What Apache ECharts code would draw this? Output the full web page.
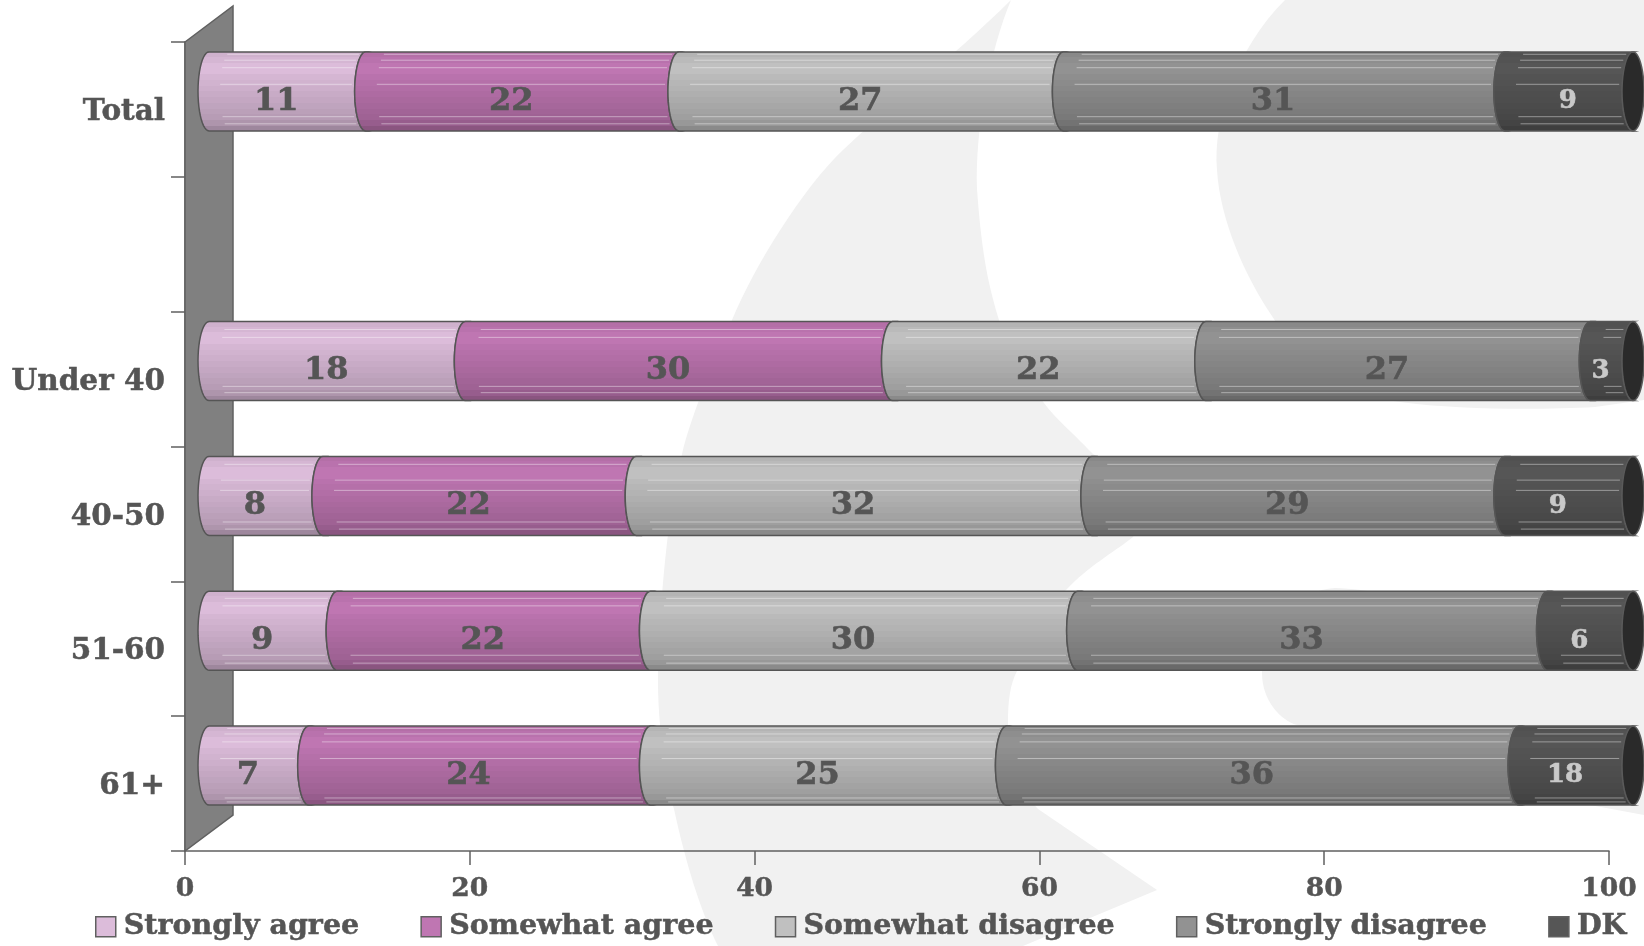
<!DOCTYPE html>
<html>
<head>
<meta charset="utf-8">
<style>
html, body { margin: 0; padding: 0; background: #fff; }
#main { width: 1644px; height: 946px; }
</style>
<script src="https://cdn.jsdelivr.net/npm/echarts@6/dist/echarts.min.js"></script>
</head>
<body>
<div id="main"></div>
<script>
var categories = ['Total', '', 'Under 40', '40-50', '51-60', '61+'];
var xTicks = [0, 100, 20];

var stronglyAgree = [11, null, 18, 8, 9, 7];
var somewhatAgree = [22, null, 30, 22, 22, 24];
var somewhatDisagree = [27, null, 22, 32, 30, 25];
var stronglyDisagree = [31, null, 27, 29, 33, 36];
// the 61+ DK bar is drawn 8 long but printed as 18 in the original
var dk = [9, null, 3, 9, 6, 8];
var dkLabels = ['9', '', '3', '9', '6', '18'];

var seriesNames = ['Strongly agree', 'Somewhat agree', 'Somewhat disagree', 'Strongly disagree', 'DK'];
var seriesValues = [stronglyAgree, somewhatAgree, somewhatDisagree, stronglyDisagree, dk];
var seriesColors = ['#dcbcda', '#bf76b2', '#c0c0c0', '#929292', '#565656'];

var FONT = '"DejaVu Serif", serif';
var TEXT_COLOR = '#555555';
var LINE_COLOR = '#606060';

// 3d offset of the floor and of the cylinders
var WALL_DX = 48, WALL_DY = -36;
var BAR_DX = 24, BAR_DY = -18;
var BAR_H = 79, BAR_RX = 11;

// brightness steps down the cylinder, top to bottom
var bands = [0.94, 0.97, 1, 1, 0.97, 0.95, 0.93, 0.91, 0.89, 0.87, 0.85, 0.83, 0.79, 0.72];
// highlight lines per row, as a share of the cylinder height
var rowShines = [
    [0.03, 0.105, 0.2, 0.41, 0.82, 0.91],
    [],
    [0.1, 0.2, 0.82, 0.9],
    [0.1, 0.3, 0.43, 0.83, 0.92],
    [0.09, 0.185, 0.81, 0.91],
    [0.03, 0.1, 0.2, 0.41, 0.91, 0.96]
];

// the faint logo behind the chart
var backdrop = [
    'M1011,0 C950,60 885,110 843,150 C803,188 755,265 732,320 C710,370 690,420 682,454 C668,510 660,600 658,671 C657,730 668,790 674,809 C685,860 700,910 718,946 L1023,946 L1157,890 L1038,809 C1020,790 1008,760 1008,723 C1008,700 1010,685 1017,671 C1030,640 1045,610 1066,590 C1090,565 1110,555 1133,537 L1160,495 L1093,454 C1070,430 1055,418 1044,403 C1025,380 1010,350 999,320 C990,290 982,260 977,189 C975,130 990,50 1011,0 Z',
    'M1285,0 C1235,50 1213,120 1217,170 C1220,220 1245,276 1272,316 C1300,360 1340,395 1400,402 C1460,410 1540,410 1595,407 L1644,400 L1644,0 Z',
    'M1262,673 C1262,620 1300,590 1335,588 C1400,590 1500,620 1644,650 L1644,815 L1590,805 L1297,725 C1280,720 1262,700 1262,673 Z'
];

function shade(hex, k) {
    var n = parseInt(hex.slice(1), 16);
    var r = Math.round((n >> 16 & 255) * k);
    var g = Math.round((n >> 8 & 255) * k);
    var b = Math.round((n & 255) * k);
    return 'rgb(' + r + ',' + g + ',' + b + ')';
}

function bandGradient(hex) {
    var stops = [];
    for (var i = 0; i < bands.length; i++) {
        stops.push({ offset: i / bands.length, color: shade(hex, bands[i]) });
        stops.push({ offset: (i + 1) / bands.length, color: shade(hex, bands[i]) });
    }
    return { type: 'linear', x: 0, y: 0, x2: 0, y2: 1, colorStops: stops };
}

// x of the left-bulging arc at height y
function arcX(xc, yc, y) {
    var t = (y - yc) / (BAR_H / 2);
    return xc - BAR_RX * Math.sqrt(Math.max(0, 1 - t * t));
}

function arcPoints(xc, yc, down) {
    var pts = [];
    for (var i = 0; i <= 24; i++) {
        var a = -Math.PI / 2 + Math.PI * i / 24;
        var y = yc + Math.sin(a) * BAR_H / 2;
        pts.push([xc - Math.cos(a) * BAR_RX, y]);
    }
    return down ? pts : pts.reverse();
}

function renderSegment(params, api) {
    var s = params.seriesIndex - 2;
    var row = api.value(2);
    var p0 = api.coord([api.value(0), row]);
    var p1 = api.coord([api.value(1), row]);
    var x0 = p0[0] + BAR_DX, x1 = p1[0] + BAR_DX, yc = p0[1] + BAR_DY;
    var top = yc - BAR_H / 2;
    var children = [{
        type: 'polygon',
        shape: { points: arcPoints(x1, yc, true).concat(arcPoints(x0, yc, false)) },
        style: { fill: bandGradient(seriesColors[s]), stroke: '#555555', lineWidth: 1.5 }
    }];
    var shines = rowShines[row];
    for (var i = 0; i < shines.length; i++) {
        var y = top + BAR_H * shines[i];
        var from = arcX(x0, yc, y) + 22;
        var to = arcX(x1, yc, y) - 3;
        if (to > from) {
            children.push({
                type: 'line',
                shape: { x1: from, y1: y, x2: to, y2: y },
                style: { stroke: 'rgba(255,255,255,0.42)', lineWidth: 1 }
            });
        }
    }
    if (s === 4) {
        children.push({
            type: 'polygon',
            shape: { points: arcPoints(x1, yc, true).concat(arcPoints(x1, yc, true).map(function (p) {
                return [2 * x1 - p[0], p[1]];
            }).reverse()) },
            style: { fill: '#2a2a2a', stroke: '#5a5a5a', lineWidth: 1.5 }
        });
    }
    var label = s === 4 ? dkLabels[row] : String(seriesValues[s][row]);
    var nudge = (s === 4 && row === 0) ? 10 : 0;
    var color = s === 4 ? '#c9c9c9' : TEXT_COLOR;
    children.push({
        type: 'text',
        style: {
            text: label,
            x: (x0 + x1) / 2 - BAR_RX + nudge,
            y: yc + 10,
            align: 'center',
            verticalAlign: 'middle',
            fontFamily: FONT,
            fontWeight: 'bold',
            fontSize: s === 4 ? 26 : 32,
            fill: color,
            stroke: color,
            lineWidth: 0.6
        }
    });
    return { type: 'group', children: children };
}

function renderWall(params) {
    var c = params.coordSys;
    var bottom = c.y + c.height;
    return {
        type: 'polygon',
        shape: { points: [[c.x, c.y], [c.x + WALL_DX, c.y + WALL_DY], [c.x + WALL_DX, bottom + WALL_DY], [c.x, bottom]] },
        style: { fill: '#808080', stroke: LINE_COLOR, lineWidth: 1.5 }
    };
}

function renderBackdrop() {
    return {
        type: 'group',
        children: backdrop.map(function (d) {
            return { type: 'path', shape: { pathData: d }, style: { fill: '#f1f1f1' } };
        })
    };
}

var series = [{
    name: 'backdrop',
    type: 'custom',
    coordinateSystem: 'cartesian2d',
    renderItem: renderBackdrop,
    data: [[0, 0]],
    silent: true,
    clip: false,
    z: -1
}, {
    name: 'wall',
    type: 'custom',
    coordinateSystem: 'cartesian2d',
    renderItem: renderWall,
    data: [[0, 0]],
    silent: true,
    clip: false,
    z: 1
}];

var running = categories.map(function () { return 0; });
seriesNames.forEach(function (name, s) {
    var items = [];
    seriesValues[s].forEach(function (v, row) {
        if (v === null) return;
        items.push([running[row], running[row] + v, row]);
        running[row] += v;
    });
    series.push({
        name: name,
        type: 'custom',
        coordinateSystem: 'cartesian2d',
        renderItem: renderSegment,
        itemStyle: { color: seriesColors[s] },
        encode: { x: [0, 1], y: 2 },
        data: items,
        clip: false,
        z: 3
    });
});

var chart = echarts.init(document.getElementById('main'));
chart.setOption({
    animation: false,
    backgroundColor: '#ffffff',
    textStyle: { fontFamily: FONT },
    grid: { left: 185, top: 42, width: 1424, height: 809, containLabel: false },
    legend: {
        data: seriesNames,
        left: 95,
        top: 912,
        padding: 0,
        itemGap: 61,
        itemWidth: 20,
        itemHeight: 20,
        icon: 'rect',
        selectedMode: false,
        itemStyle: { borderColor: LINE_COLOR, borderWidth: 1.5 },
        textStyle: { fontFamily: FONT, fontWeight: 'bold', fontSize: 28.5, color: TEXT_COLOR, padding: [0, 0, 0, 3], textBorderColor: TEXT_COLOR, textBorderWidth: 0.5 }
    },
    tooltip: { show: false },
    xAxis: {
        type: 'value',
        min: xTicks[0],
        max: xTicks[1],
        interval: xTicks[2],
        splitLine: { show: false },
        axisLine: { show: true, lineStyle: { color: LINE_COLOR, width: 1.5 } },
        axisTick: { show: true, length: 14, lineStyle: { color: LINE_COLOR, width: 1.5 } },
        axisLabel: { margin: 25, fontFamily: FONT, fontWeight: 'bold', fontSize: 26.5, color: TEXT_COLOR, textBorderColor: TEXT_COLOR, textBorderWidth: 0.5 }
    },
    yAxis: {
        type: 'category',
        inverse: true,
        data: categories,
        axisLine: { show: true, lineStyle: { color: LINE_COLOR, width: 1.5 } },
        axisTick: { show: true, length: 14, lineStyle: { color: LINE_COLOR, width: 1.5 } },
        axisLabel: { margin: 20, verticalAlign: 'top', lineHeight: 6, fontFamily: FONT, fontWeight: 'bold', fontSize: 29.5, color: TEXT_COLOR, textBorderColor: TEXT_COLOR, textBorderWidth: 0.5 }
    },
    series: series
});
</script>
</body>
</html>
